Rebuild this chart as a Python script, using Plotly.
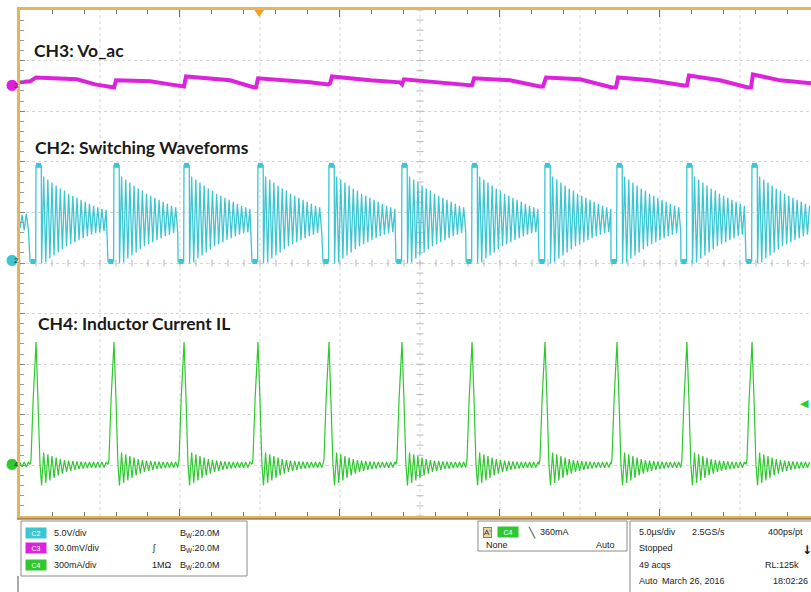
import plotly.graph_objects as go

# ---------------- data ----------------
# start of each switching event (CH2 drops low / CH4 starts rising), µs
pulse_start_us = [0.63, 5.50, 9.88, 14.50, 18.94, 23.50, 27.88, 32.44, 36.94, 41.31, 45.38]

# CH2 switching node (V): shape of one switching event, offsets in µs
ch2_event_offsets_us = [0.0, 0.35, 0.37, 0.70, 0.72]
ch2_event_v = [-0.1, -0.1, 9.4, 9.4, -0.3]
ch2_ring_start_us = 0.85
ch2_ring_half_us = 0.13
ch2_ring_v = [8.3, -0.2, 8.0, 0.2, 7.7, 0.5, 7.4, 0.8, 7.1, 1.1, 6.9, 1.4,
              6.6, 1.6, 6.4, 1.8, 6.2, 2.0, 6.0, 2.2, 5.8, 2.4, 5.6, 2.55,
              5.4, 2.7, 5.25, 2.8, 5.1, 2.9, 5.0, 3.0, 4.9, 3.05, 4.8, 3.1]
ch2_pre_v = [3.2, 4.5, 3.0, 4.6, 3.1]
ch2_dot_offsets_us = [0.18, 0.53]
ch2_dot_v = [-0.1, 9.4]

# CH4 inductor current (mA)
ch4_event_offsets_us = [0.0, 0.06, 0.19, 0.375, 0.50, 0.62, 0.72]
ch4_event_ma = [0, 30, 380, 725, 380, 0, -125]
ch4_ring_start_us = 0.85
ch4_ring_half_us = 0.13
ch4_ring_ma = [70, -110, 60, -95, 50, -80, 40, -65, 32, -55, 26, -45,
               22, -38, 20, -32, 18, -28, 16, -25, 15, -22, 15, -20,
               14, -20, 14, -18, 14, -18, 12, -16, 12, -16, 12, -16]
ch4_pre_ma = [12, -15, 14, -16, 12]

# CH3 output ripple (mV)
ch3_t_us = [0.0, 0.63, 1.0, 2.5, 3.56, 4.69, 5.75, 5.88, 6.0, 8.13, 9.38, 10.13,
            10.25, 10.38, 11.88, 13.13, 14.63, 14.75, 14.88, 16.88, 18.13, 19.25,
            19.38, 19.5, 21.88, 23.75, 23.88, 24.0, 26.25, 28.13, 28.25, 28.38,
            30.63, 32.5, 32.69, 32.88, 35.0, 37.0, 37.25, 37.38, 39.38, 41.5,
            41.69, 41.81, 43.75, 45.5, 45.69, 45.81, 47.5, 49.44]
ch3_mv = [1.8, 2.4, 4.7, 4.2, 3.6, 0.6, -0.6, -1.2, 3.0, 2.4, 0.6, -0.6,
          -0.6, 5.3, 4.2, 3.0, -1.2, -1.2, 4.2, 3.0, 1.8, 0.6,
          1.2, 5.3, 3.0, 1.8, 0.6, 3.6, 1.8, 0.0, 0.0, 4.2,
          3.0, -0.6, -0.6, 4.7, 3.6, -1.2, -1.2, 4.7, 3.0, 0.0,
          0.0, 5.9, 3.0, -1.2, -1.2, 6.5, 3.0, 1.2]

# channel settings: scale per division, vertical position in divisions
ch_names = ["CH3", "CH2", "CH4"]
ch_scale = [30.0, 5.0, 300.0]        # mV/div, V/div, mA/div
ch_offset_div = [3.51, 0.05, -3.98]
trigger_us = 14.95
trigger_level_ma = 360.0
t_end_us = 49.44
time_divs_us = [5, 10, 15, 20, 25, 30, 35, 40, 45]

# ---------------- build traces ----------------
def build(starts, pre_vals, ev_off, ev_vals, ring_start, ring_half, ring_vals, t_end):
    t, v = [], []
    for k, val in enumerate(pre_vals):
        tk = k * ring_half
        if tk < starts[0]:
            t.append(tk); v.append(val)
    for i, t0 in enumerate(starts):
        t_next = starts[i + 1] if i + 1 < len(starts) else t_end
        for off, val in zip(ev_off, ev_vals):
            t.append(t0 + off); v.append(val)
        for k, val in enumerate(ring_vals):
            tk = t0 + ring_start + k * ring_half
            if tk >= t_next:
                break
            t.append(tk); v.append(val)
    return t, v

ch2_t, ch2_v = build(pulse_start_us, ch2_pre_v, ch2_event_offsets_us, ch2_event_v,
                     ch2_ring_start_us, ch2_ring_half_us, ch2_ring_v, t_end_us)
ch4_t, ch4_v = build(pulse_start_us, ch4_pre_ma, ch4_event_offsets_us, ch4_event_ma,
                     ch4_ring_start_us, ch4_ring_half_us, ch4_ring_ma, t_end_us)
dot_t = [t0 + o for t0 in pulse_start_us for o in ch2_dot_offsets_us]
dot_v = [v for _ in pulse_start_us for v in ch2_dot_v]

W, H = 811, 592
L, R, T, B = 20, 0, 10, 76
PW, PH = W - L - R, H - T - B

def px(x):
    return (x - L) / PW

def py(y):
    return (H - B - y) / PH

def rng(scale, off):
    return [(-5 - off) * scale, (5 - off) * scale]

C_MAG = "#dc22dc"
C_CYAN = "#3cc6d4"
C_GREEN = "#2fc82f"
TAN = "#e8b45a"
GRID = "#d6d6d6"

fig = go.Figure()

# center-cross graticule marks
fig.add_trace(go.Scatter(x=[25.0] * 51, y=[-5 + 0.2 * k for k in range(51)], yaxis="y",
                         mode="markers", marker=dict(symbol="line-ew", size=5,
                         line=dict(width=1, color="#b8b8b8")), hoverinfo="skip", showlegend=False))
fig.add_trace(go.Scatter(x=[k * 1.0 for k in range(50)], y=[0.0] * 50, yaxis="y",
                         mode="markers", marker=dict(symbol="line-ns", size=5,
                         line=dict(width=1, color="#b8b8b8")), hoverinfo="skip", showlegend=False))

fig.add_trace(go.Scatter(x=ch3_t_us, y=ch3_mv, yaxis="y2", mode="lines",
                         line=dict(color=C_MAG, width=4), showlegend=False))
fig.add_trace(go.Scatter(x=ch2_t, y=ch2_v, yaxis="y3", mode="lines",
                         line=dict(color=C_CYAN, width=1.3), showlegend=False))
fig.add_trace(go.Scatter(x=dot_t, y=dot_v, yaxis="y3", mode="markers",
                         marker=dict(symbol="square", size=5, color=C_CYAN), showlegend=False))
fig.add_trace(go.Scatter(x=ch4_t, y=ch4_v, yaxis="y4", mode="lines",
                         line=dict(color=C_GREEN, width=1.2), showlegend=False))

hidden = dict(showgrid=False, zeroline=False, showticklabels=False, ticks="", showline=False,
              automargin=False)
fig.update_layout(
    width=W, height=H, margin=dict(l=L, r=R, t=T, b=B, autoexpand=False),
    paper_bgcolor="white", plot_bgcolor="white",
    xaxis=dict(range=[0, t_end_us], dtick=10, tick0=0, showgrid=False,
               zeroline=False, showticklabels=False, ticks="inside", ticklen=7,
               tickcolor="#666", automargin=False,
               showline=True, linecolor=TAN, linewidth=3, mirror="ticks",
               minor=dict(dtick=2, ticks="inside", ticklen=4, tickcolor="#777")),
    yaxis=dict(range=[-5, 5], dtick=1, tick0=-5, showgrid=True, gridcolor=GRID,
               griddash="dot", gridwidth=1, zeroline=False, showticklabels=False,
               ticks="inside", ticklen=5, tickcolor="#888", showline=True,
               linecolor=TAN, linewidth=3, automargin=False,
               minor=dict(dtick=0.2, ticks="inside", ticklen=4, tickcolor="#999")),
    yaxis2=dict(range=rng(ch_scale[0], ch_offset_div[0]), overlaying="y", **hidden),
    yaxis3=dict(range=rng(ch_scale[1], ch_offset_div[1]), overlaying="y", **hidden),
    yaxis4=dict(range=rng(ch_scale[2], ch_offset_div[2]), overlaying="y", **hidden),
)

shapes = []
annots = []

# vertical graticule lines, one per time division
for t in time_divs_us:
    shapes.append(dict(type="line", xref="x", yref="paper", x0=t, x1=t, y0=0, y1=1,
                       line=dict(color=GRID, width=1, dash="dot"), layer="below"))

# trigger position marker (top)
shapes.append(dict(type="path", xref="x", yref="paper",
                   path=f"M {trigger_us-0.3} 1.0 L {trigger_us+0.3} 1.0 L {trigger_us} {py(17)} Z",
                   fillcolor="#f0a020", line=dict(width=0)))

# channel ground markers on the left
for name, off, col, lab in zip(ch_names, ch_offset_div, [C_MAG, C_CYAN, C_GREEN], ["3", "2", "4"]):
    shapes.append(dict(type="circle", xref="paper", yref="y", x0=px(6), x1=px(18),
                       y0=off - 0.12, y1=off + 0.12, fillcolor=col,
                       line=dict(color="#ffffff", width=1), layer="above"))
    annots.append(dict(x=px(12), y=off, xref="paper", yref="y", text=lab, showarrow=False,
                       font=dict(size=8, color="#333", family="Liberation Sans")))

# trigger level marker on the right
annots.append(dict(x=1.0, y=trigger_level_ma, xref="paper", yref="y4", text="◀",
                   xanchor="right", showarrow=False,
                   font=dict(size=11, color=C_GREEN, family="DejaVu Sans")))

# channel titles
for txt, x, y in [("CH3: Vo_ac", 32, 51), ("CH2: Switching Waveforms", 33, 147),
                  ("CH4: Inductor Current IL", 36, 323)]:
    annots.append(dict(x=px(x), y=py(y), xref="paper", yref="paper", text=f"<b>{txt}</b>",
                       xanchor="left", yanchor="middle", showarrow=False,
                       font=dict(size=17.5, color="#1a1a1a", family="Lato")))

# ---------- bottom status panel ----------
GR = "#8a8a8a"
def rect(x0, y0, x1, y1, col=GR, fill="rgba(0,0,0,0)"):
    shapes.append(dict(type="rect", xref="paper", yref="paper", x0=px(x0), x1=px(x1),
                       y0=py(y1), y1=py(y0), line=dict(color=col, width=1), fillcolor=fill))

def line(x0, y0, x1, y1, col=GR, w=1):
    shapes.append(dict(type="line", xref="paper", yref="paper", x0=px(x0), x1=px(x1),
                       y0=py(y0), y1=py(y1), line=dict(color=col, width=w)))

def text(x, y, s, size=9, anchor="left", bold=False, col="#222", fam="Liberation Sans"):
    annots.append(dict(x=px(x), y=py(y), xref="paper", yref="paper",
                       text=(f"<b>{s}</b>" if bold else s), xanchor=anchor, yanchor="middle",
                       showarrow=False, font=dict(size=size, color=col, family=fam)))

def badge(x, y, s, col):
    annots.append(dict(x=px(x), y=py(y), xref="paper", yref="paper", text=s,
                       xanchor="left", yanchor="middle", showarrow=False, bgcolor=col,
                       width=18, height=8, borderpad=1,
                       font=dict(size=7, color="white", family="Liberation Sans")))

line(17, 519, 811, 519, "#555", 1)
rect(21, 521, 247, 576)
line(18, 576, 18, 592, "#555", 1)
rect(478, 521, 627, 551)
rect(630, 521, 815, 600)

ch_rows = [("C2", C_CYAN, "5.0V/div", "", 533),
           ("C3", C_MAG, "30.0mV/div", "ʃ", 548),
           ("C4", C_GREEN, "300mA/div", "1MΩ", 565)]
for b, col, s1, s2, y in ch_rows:
    badge(25, y, b, col)
    text(52, y, s1)
    if s2:
        text(150, y, s2)
    text(178, y, "B<sub>W</sub>:20.0M")

annots.append(dict(x=px(483), y=py(532), xref="paper", yref="paper", text="A'",
                   xanchor="left", yanchor="middle", showarrow=False, bgcolor="#e8d8a8",
                   bordercolor="#a08040", borderwidth=1, borderpad=0,
                   font=dict(size=8, color="#333", family="Liberation Sans")))
badge(497, 532, "C4", C_GREEN)
text(526, 532, "╲", size=10, fam="DejaVu Sans")
text(538, 532, "360mA")
text(484, 545, "None")
text(594, 545, "Auto")

text(637, 532, "5.0µs/div")
text(690, 532, "2.5GS/s")
text(805, 532, "400ps/pt", anchor="right")
text(637, 548, "Stopped")
text(800, 550, "↓", size=12, bold=True, col="#111", fam="DejaVu Sans")
text(637, 565, "49 acqs")
text(801, 565, "RL:125k", anchor="right")
text(637, 581, "Auto")
text(660, 581, "March 26, 2016")
text(810, 581, "18:02:26", anchor="right")

fig.update_layout(shapes=shapes, annotations=annots)
fig.write_html("out.html", config={"displayModeBar": False},
               post_script="document.body.style.margin='0px';")
